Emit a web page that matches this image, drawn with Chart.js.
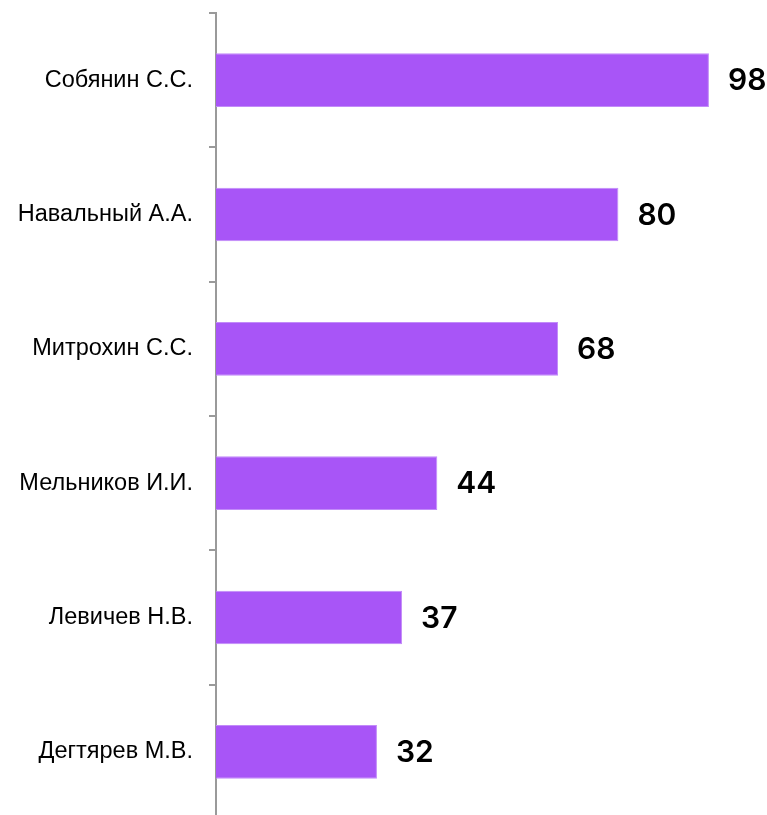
<!DOCTYPE html>
<html><head><meta charset="utf-8">
<script src="https://cdn.jsdelivr.net/npm/chart.js@4/dist/chart.umd.min.js"></script>
<style>html,body{margin:0;padding:0;background:#fff;overflow:hidden}#wrap{position:relative;width:767px;height:822px}</style>
</head><body><div id="wrap"><canvas id="c"></canvas></div>
<script>
const categories = ["Собянин С.С.","Навальный А.А.","Митрохин С.С.","Мельников И.И.","Левичев Н.В.","Дегтярев М.В."];
const values = [98, 80, 68, 44, 37, 32];

const valueLabels = {
  id: 'valueLabels',
  afterDatasetsDraw(chart) {
    const ctx = chart.ctx;
    const meta = chart.getDatasetMeta(0);
    ctx.save();
    ctx.font = '600 30px Inter';
    ctx.fillStyle = '#000';
    ctx.textAlign = 'left';
    ctx.textBaseline = 'middle';
    meta.data.forEach((bar, i) => {
      ctx.fillText(String(values[i]), bar.x + 19, bar.y + 1);
    });
    ctx.restore();
  }
};

new Chart(document.getElementById('c'), {
  type: 'bar',
  data: {
    labels: categories,
    datasets: [{ data: values, backgroundColor: '#A855F7', borderColor: '#C28BF9', borderWidth: 1, borderSkipped: 'left', barPercentage: 0.4, categoryPercentage: 1 }]
  },
  options: {
    indexAxis: 'y',
    responsive: true,
    maintainAspectRatio: false,
    animation: false,
    layout: { padding: { top: 13, right: 48, bottom: 3, left: 0 } },
    plugins: { legend: { display: false }, tooltip: { enabled: false } },
    scales: {
      x: { min: 0, max: 100, display: false },
      y: {
        afterFit(s) { s.width = 216; s.paddingTop = 0; s.paddingBottom = 0; },
        border: { display: true, color: '#9A9A9A', width: 2 },
        grid: { display: true, drawOnChartArea: false, offset: true, tickLength: 7, color: '#9A9A9A', lineWidth: 2 },
        ticks: { padding: 16, color: '#000', font: { family: 'Liberation Sans', size: 23.5 } }
      }
    }
  },
  plugins: [valueLabels]
});
</script></body></html>
